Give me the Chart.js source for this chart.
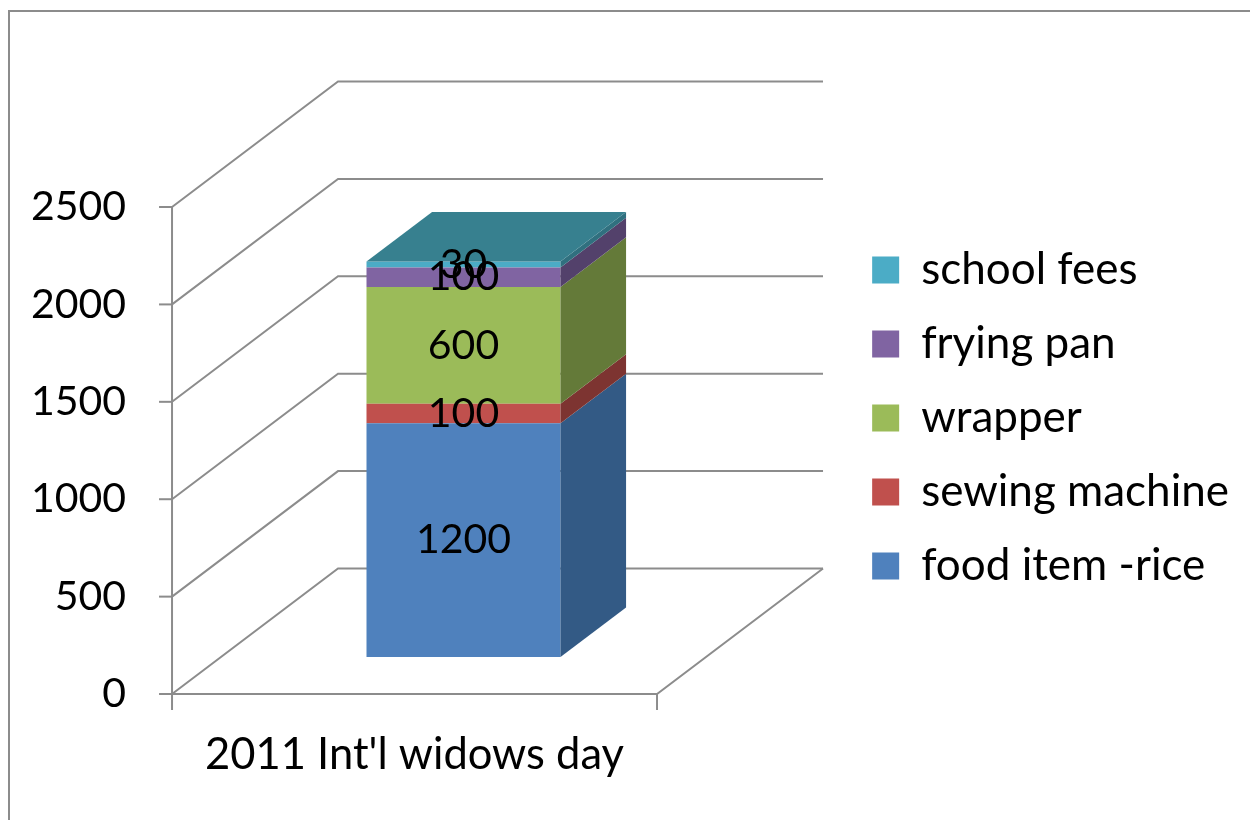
<!DOCTYPE html>
<html>
<head>
<meta charset="utf-8">
<title>2011 Int'l widows day</title>
<script src="https://cdn.jsdelivr.net/npm/chart.js@4.4.1/dist/chart.umd.min.js"></script>
<style>
  html, body { margin: 0; padding: 0; background: #fff; }
  canvas { display: block; }
</style>
</head>
<body>
<canvas id="chart" width="1250" height="820"></canvas>
<script>
// values
const categories = ["2011 Int'l widows day"];
const seriesNames = ['food item -rice', 'sewing machine', 'wrapper', 'frying pan', 'school fees'];
const foodRice = [1200];
const sewingMachine = [100];
const wrapper = [600];
const fryingPan = [100];
const schoolFees = [30];
const yTicks = [0, 500, 1000, 1500, 2000, 2500];

// Office 2007 palette, front / side faces
const frontColors = ['#4f81bd', '#c0504d', '#9bbb59', '#8064a2', '#4bacc6'];
const sideColors = ['#335a85', '#7d3431', '#647a39', '#53416b', '#30707f'];
const topColor = '#37808f';
const lineColor = '#8c8c8c';

// fake 3D depth: full floor depth vector, bar sits between F0 and F1
const DX = 166, DY = -125.5;
const F0 = 0.295, F1 = 0.69;
const FONT = 'Lato, "DejaVu Sans", sans-serif';
const PLOT_RIGHT = 706; // right edge of the bar plane
const PAD_RIGHT = 11;

function pt(px, py, f) {
    return [px + (f - F0) * DX, py + (f - F0) * DY];
}

function poly(ctx, pts, fill) {
    ctx.beginPath();
    ctx.moveTo(pts[0][0], pts[0][1]);
    for (let i = 1; i < pts.length; i++) ctx.lineTo(pts[i][0], pts[i][1]);
    if (fill) {
        ctx.closePath();
        ctx.fillStyle = fill;
        ctx.fill();
    } else {
        ctx.stroke();
    }
}

const box3d = {
    id: 'box3d',
    beforeDraw(chart) {
        const ctx = chart.ctx;
        ctx.save();
        ctx.strokeStyle = lineColor;
        ctx.lineWidth = 2;
        ctx.strokeRect(9, 11, 1400, 1000); // outer chart frame, runs off the picture
        ctx.restore();
    },
    beforeDatasetsDraw(chart) {
        const { ctx, chartArea: a, scales: { y } } = chart;
        const base = y.getPixelForValue(0);
        const top = y.getPixelForValue(yTicks[yTicks.length - 1]);
        ctx.save();
        ctx.strokeStyle = lineColor;
        ctx.lineWidth = 2;

        // gridlines on side wall + back wall
        yTicks.forEach(v => {
            const py = y.getPixelForValue(v);
            poly(ctx, [pt(a.left, py, 0), pt(a.left, py, 1), pt(a.right, py, 1)]);
        });
        // floor front and right edge
        poly(ctx, [pt(a.left, base, 0), pt(a.right, base, 0), pt(a.right, base, 1)]);

        // value axis line and tick marks
        const fl = pt(a.left, base, 0);
        poly(ctx, [pt(a.left, top, 0), [fl[0], fl[1] + 16]]);
        yTicks.forEach(v => {
            const p = pt(a.left, y.getPixelForValue(v), 0);
            poly(ctx, [[p[0] - 13, p[1]], p]);
        });
        // category axis tick marks
        const fr = pt(a.right, base, 0);
        poly(ctx, [fr, [fr[0], fr[1] + 16]]);
        ctx.restore();
    },
    afterDatasetsDraw(chart) {
        const ctx = chart.ctx;
        const bdx = (F1 - F0) * DX, bdy = (F1 - F0) * DY;
        const n = chart.data.datasets.length;
        ctx.save();
        chart.data.datasets.forEach((ds, i) => {
            chart.getDatasetMeta(i).data.forEach(bar => {
                const r = bar.x + bar.width / 2, l = bar.x - bar.width / 2;
                poly(ctx, [[r, bar.y], [r + bdx, bar.y + bdy], [r + bdx, bar.base + bdy], [r, bar.base]], sideColors[i]);
                if (i === n - 1) {
                    poly(ctx, [[l, bar.y], [l + bdx, bar.y + bdy], [r + bdx, bar.y + bdy], [r, bar.y]], topColor);
                }
            });
        });
        // value labels
        ctx.fillStyle = '#000';
        ctx.font = '41px ' + FONT;
        ctx.textAlign = 'center';
        ctx.textBaseline = 'middle';
        chart.data.datasets.forEach((ds, i) => {
            chart.getDatasetMeta(i).data.forEach((bar, j) => {
                const c = bar.getCenterPoint();
                ctx.fillText(String(ds.data[j]), c.x, c.y);
            });
        });
        ctx.restore();
    }
};

const seriesValues = [foodRice, sewingMachine, wrapper, fryingPan, schoolFees];
const datasets = seriesNames.map((name, i) => ({
    label: name,
    data: seriesValues[i],
    backgroundColor: frontColors[i],
    borderWidth: 0,
    categoryPercentage: 1,
    barPercentage: 0.4
}));

new Chart(document.getElementById('chart').getContext('2d'), {
    type: 'bar',
    data: { labels: categories, datasets: datasets },
    plugins: [box3d],
    options: {
        responsive: false,
        devicePixelRatio: 1,
        animation: false,
        layout: { padding: { left: 21, top: 170, right: PAD_RIGHT, bottom: 43 } },
        plugins: {
            tooltip: { enabled: false },
            legend: {
                position: 'right',
                fullSize: false,
                reverse: true,
                maxWidth: 440,
                title: { display: true, text: '', font: { size: 7.5 }, padding: 0 },
                labels: {
                    boxWidth: 27,
                    boxHeight: 27,
                    padding: 30,
                    color: '#000',
                    font: { family: FONT, size: 44 }
                }
            }
        },
        scales: {
            x: {
                stacked: true,
                grid: { display: false, drawTicks: false },
                border: { display: false },
                ticks: { color: '#000', font: { family: FONT, size: 43.5 }, labelOffset: -49, padding: 72 },
                afterFit: s => { s.height = 120; }
            },
            y: {
                stacked: true,
                min: 0,
                max: 2500,
                grid: { display: false, drawTicks: false },
                border: { display: false },
                ticks: {
                    stepSize: 500,
                    color: '#000',
                    font: { family: FONT, size: 41 },
                    labelOffset: 37,
                    padding: 95,
                    callback: v => String(v)
                },
                afterFit: s => { s.width = 200; }
            },
            gap: {
                // empty spacer between the plot and the legend
                type: 'linear',
                position: 'right',
                grid: { display: false, drawTicks: false },
                border: { display: false },
                ticks: { display: false },
                afterFit: s => {
                    const lg = s.chart.legend;
                    const lw = lg && lg.width ? lg.width : 393;
                    s.width = Math.max(0, s.chart.width - PAD_RIGHT - PLOT_RIGHT - lw);
                }
            }
        }
    }
});
</script>
</body>
</html>
